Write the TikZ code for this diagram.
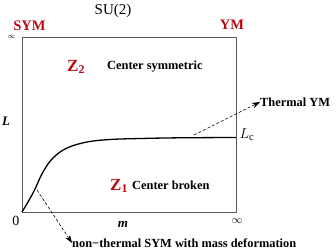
\documentclass[tikz,border=0pt]{standalone}
\usepackage{fontspec}
\setmainfont{Liberation Serif}
\usetikzlibrary{arrows.meta}
\definecolor{dred}{RGB}{185,10,20}
\definecolor{boxgray}{RGB}{90,90,90}
\begin{document}
\begin{tikzpicture}[x=1pt,y=-1pt,
  lbl/.style={font=\fontsize{12.4}{14}\selectfont\bfseries, inner sep=0pt},
  redlbl/.style={font=\fontsize{14.5}{16}\selectfont\bfseries, text=dred, inner sep=0pt},
  zlbl/.style={font=\fontsize{17}{19}\selectfont\bfseries, text=dred, inner sep=0pt},
  plain/.style={font=\fontsize{15}{17}\selectfont, inner sep=0pt},
  dasharrow/.style={densely dashed, -{Stealth[length=8pt,width=5.5pt]}, line width=0.6pt}]
\useasboundingbox (0,0) rectangle (336,250);
% frame
\node[draw=boxgray, line width=0.8pt, minimum width=214pt, minimum height=175pt, inner sep=0pt, anchor=north west] (box) at (22,37) {};
% axis labels
\node[plain] (su) at (113,11) {SU(2)};
\node[redlbl] (sym) at (29.5,25.5) {SYM};
\node[redlbl] (ym) at (232,25) {YM};
\node[plain, font=\fontsize{7.5}{9}\selectfont] (inftop) at (11.5,36.5) {$\infty$};
\node[plain, font=\fontsize{10.5}{12}\selectfont] (infright) at (237,221) {$\infty$};
\node[plain, font=\fontsize{14}{16}\selectfont] (zero) at (16,221) {0};
\node[lbl, font=\fontsize{13}{15}\selectfont\bfseries\itshape] (Lax) at (6,121) {L};
\node[lbl, font=\fontsize{13}{15}\selectfont\bfseries\itshape] (max) at (123,224) {m};
% phases
\node[zlbl, anchor=west] (z2) at (67,67) {Z$_{\mathbf 2}$};
\node[lbl, anchor=west] (cs) at (107,67) {Center symmetric};
\node[zlbl, anchor=west] (z1) at (110,186) {Z$_{\mathbf 1}$};
\node[lbl, anchor=west] (cb) at (132,185) {Center broken};
\node[plain, font=\fontsize{15}{17}\selectfont] (Lc) at (247,135) {$L_{\mathrm c}$};
% transition curve
\draw[line width=1.3pt] plot[smooth, tension=0.6] coordinates {(22,212) (33,193) (43,172) (53,158) (67,148) (87,142) (110,139.5) (140,138.5) (180,137.8) (236,137.5)};
% arrows
\coordinate (thstart) at (194,135);
\coordinate (symstart) at (37,190);
\node[lbl, anchor=west] (thym) at (260,102) {Thermal YM};
\node[lbl, anchor=west] (nts) at (72,243) {non\textminus thermal SYM with mass deformation};
\draw[dasharrow] (thstart) -- (thym.west);
\draw[dasharrow] (symstart) -- (nts.west);
\end{tikzpicture}
\end{document}
